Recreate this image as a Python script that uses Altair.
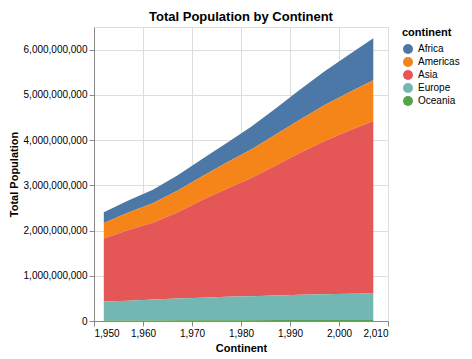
import altair as alt
import pandas as pd

years = [1952, 1957, 1962, 1967, 1972, 1977, 1982, 1987, 1992, 1997, 2002, 2007]
continents = ["Africa", "Americas", "Asia", "Europe", "Oceania"]
africa = [237640501, 264837738, 296516865, 335289489, 379879541, 433061021,
          499348587, 574834110, 659081517, 743832984, 833723916, 929539692]
americas = [345152446, 386953916, 433270254, 480746623, 529384210, 578067699,
            630290920, 682753971, 739274104, 796900410, 849772762, 898871184]
asia = [1395357352, 1562780599, 1696357182, 1905662900, 2150972248, 2384513556,
        2610135582, 2871220762, 3133292191, 3383285500, 3601802203, 3811953827]
europe = [418120846, 437890351, 460355155, 481178958, 500635059, 517164531,
          529477642, 543094160, 558142797, 568944148, 578223869, 586098529]
oceania = [10686006, 11941976, 13283518, 14600414, 16106733, 17239000,
           18394850, 19574415, 20919651, 22241430, 23454829, 24549947]

series = dict(zip(continents, [africa, americas, asia, europe, oceania]))
rows = []
for c, vals in series.items():
    for y, v in zip(years, vals):
        rows.append({"year": y, "continent": c, "pop": v})
df = pd.DataFrame(rows)

chart = alt.Chart(df).mark_area().encode(
    x=alt.X("year:Q", title="Continent", scale=alt.Scale(zero=False),
            axis=alt.Axis(format=",.0f")),
    y=alt.Y("sum(pop):Q", title="Total Population", stack="zero",
            axis=alt.Axis(format=",.0f")),
    color=alt.Color("continent:N", scale=alt.Scale(domain=continents),
                    legend=alt.Legend(offset=14)),
).properties(
    width=294, height=294,
    title=alt.TitleParams("Total Population by Continent", offset=3),
    padding={"left": 0, "right": 0, "top": 3, "bottom": 0}
).configure(font="Arial")

chart.save("out.html", embed_options={"renderer": "svg", "actions": False})
